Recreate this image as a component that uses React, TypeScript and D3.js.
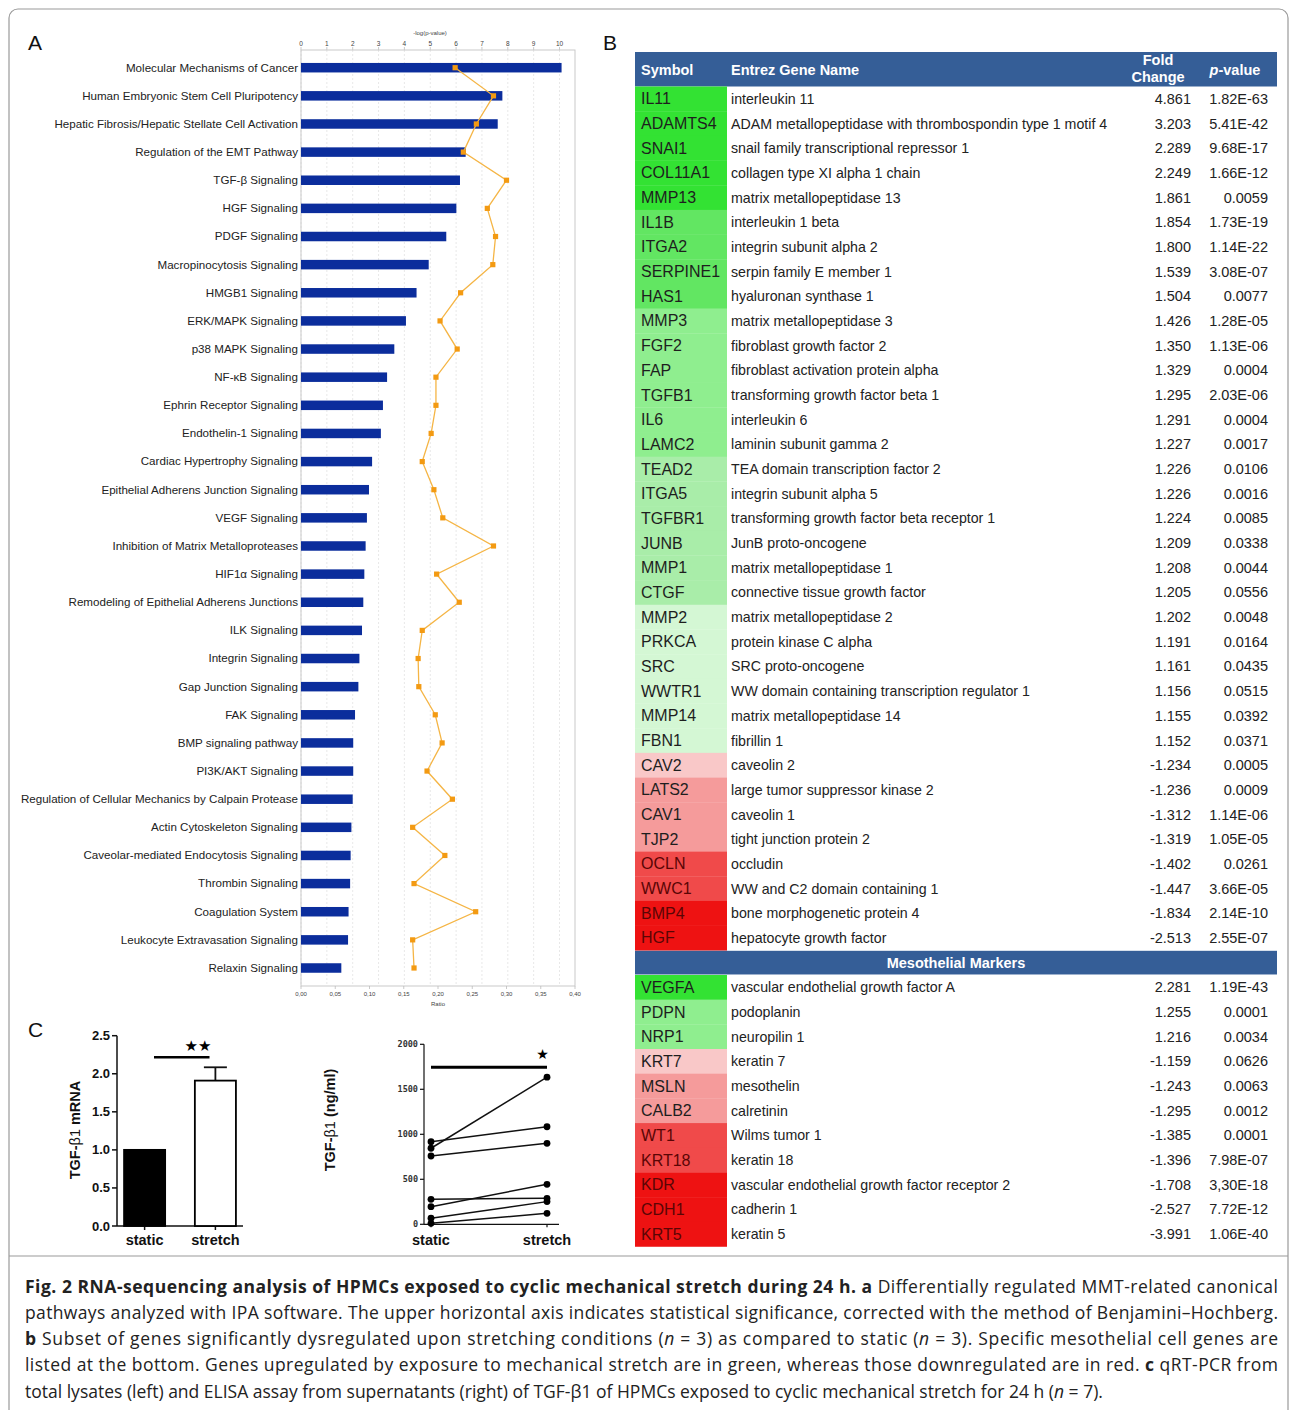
import React from "react";
import * as d3 from "d3";

const pathways = [
  "Molecular Mechanisms of Cancer", "Human Embryonic Stem Cell Pluripotency",
  "Hepatic Fibrosis/Hepatic Stellate Cell Activation", "Regulation of the EMT Pathway",
  "TGF-β Signaling", "HGF Signaling", "PDGF Signaling", "Macropinocytosis Signaling",
  "HMGB1 Signaling", "ERK/MAPK Signaling", "p38 MAPK Signaling", "NF-κB Signaling",
  "Ephrin Receptor Signaling", "Endothelin-1 Signaling", "Cardiac Hypertrophy Signaling",
  "Epithelial Adherens Junction Signaling", "VEGF Signaling", "Inhibition of Matrix Metalloproteases",
  "HIF1α Signaling", "Remodeling of Epithelial Adherens Junctions", "ILK Signaling",
  "Integrin Signaling", "Gap Junction Signaling", "FAK Signaling", "BMP signaling pathway",
  "PI3K/AKT Signaling", "Regulation of Cellular Mechanics by Calpain Protease",
  "Actin Cytoskeleton Signaling", "Caveolar-mediated Endocytosis Signaling", "Thrombin Signaling",
  "Coagulation System", "Leukocyte Extravasation Signaling", "Relaxin Signaling",
];
const negLogP = [10.08, 7.79, 7.61, 6.37, 6.15, 6.01, 5.62, 4.94, 4.47, 4.06, 3.61, 3.33, 3.17, 3.09, 2.75, 2.63, 2.55, 2.5, 2.45, 2.41, 2.36, 2.26, 2.22, 2.09, 2.02, 2.02, 2.0, 1.95, 1.92, 1.9, 1.84, 1.82, 1.56];
const ratios = [0.225, 0.281, 0.256, 0.237, 0.3, 0.272, 0.284, 0.28, 0.233, 0.203, 0.228, 0.197, 0.197, 0.19, 0.177, 0.194, 0.207, 0.281, 0.198, 0.231, 0.177, 0.171, 0.172, 0.196, 0.206, 0.184, 0.221, 0.163, 0.21, 0.165, 0.255, 0.163, 0.165];
const topTicks = [0, 1, 2, 3, 4, 5, 6, 7, 8, 9, 10];
const ratioTicks = [0, 0.05, 0.1, 0.15, 0.2, 0.25, 0.3, 0.35, 0.4];

const symbols = ["IL11", "ADAMTS4", "SNAI1", "COL11A1", "MMP13", "IL1B", "ITGA2", "SERPINE1", "HAS1", "MMP3", "FGF2", "FAP", "TGFB1", "IL6", "LAMC2", "TEAD2", "ITGA5", "TGFBR1", "JUNB", "MMP1", "CTGF", "MMP2", "PRKCA", "SRC", "WWTR1", "MMP14", "FBN1", "CAV2", "LATS2", "CAV1", "TJP2", "OCLN", "WWC1", "BMP4", "HGF"];
const geneNames = ["interleukin 11", "ADAM metallopeptidase with thrombospondin type 1 motif 4", "snail family transcriptional repressor 1", "collagen type XI alpha 1 chain", "matrix metallopeptidase 13", "interleukin 1 beta", "integrin subunit alpha 2", "serpin family E member 1", "hyaluronan synthase 1", "matrix metallopeptidase 3", "fibroblast growth factor 2", "fibroblast activation protein alpha", "transforming growth factor beta 1", "interleukin 6", "laminin subunit gamma 2", "TEA domain transcription factor 2", "integrin subunit alpha 5", "transforming growth factor beta receptor 1", "JunB proto-oncogene", "matrix metallopeptidase 1", "connective tissue growth factor", "matrix metallopeptidase 2", "protein kinase C alpha", "SRC proto-oncogene", "WW domain containing transcription regulator 1", "matrix metallopeptidase 14", "fibrillin 1", "caveolin 2", "large tumor suppressor kinase 2", "caveolin 1", "tight junction protein 2", "occludin", "WW and C2 domain containing 1", "bone morphogenetic protein 4", "hepatocyte growth factor"];
const foldChanges = ["4.861", "3.203", "2.289", "2.249", "1.861", "1.854", "1.800", "1.539", "1.504", "1.426", "1.350", "1.329", "1.295", "1.291", "1.227", "1.226", "1.226", "1.224", "1.209", "1.208", "1.205", "1.202", "1.191", "1.161", "1.156", "1.155", "1.152", "-1.234", "-1.236", "-1.312", "-1.319", "-1.402", "-1.447", "-1.834", "-2.513"];
const pValues = ["1.82E-63", "5.41E-42", "9.68E-17", "1.66E-12", "0.0059", "1.73E-19", "1.14E-22", "3.08E-07", "0.0077", "1.28E-05", "1.13E-06", "0.0004", "2.03E-06", "0.0004", "0.0017", "0.0106", "0.0016", "0.0085", "0.0338", "0.0044", "0.0556", "0.0048", "0.0164", "0.0435", "0.0515", "0.0392", "0.0371", "0.0005", "0.0009", "1.14E-06", "1.05E-05", "0.0261", "3.66E-05", "2.14E-10", "2.55E-07"];
const levels = [4, 4, 4, 4, 4, 3, 3, 3, 3, 2, 2, 2, 2, 2, 2, 1, 1, 1, 1, 1, 1, 0, 0, 0, 0, 0, 0, -1, -2, -2, -2, -3, -3, -4, -4];

const mesoSymbols = ["VEGFA", "PDPN", "NRP1", "KRT7", "MSLN", "CALB2", "WT1", "KRT18", "KDR", "CDH1", "KRT5"];
const mesoNames = ["vascular endothelial growth factor A", "podoplanin", "neuropilin 1", "keratin 7", "mesothelin", "calretinin", "Wilms tumor 1", "keratin 18", "vascular endothelial growth factor receptor 2", "cadherin 1", "keratin 5"];
const mesoFold = ["2.281", "1.255", "1.216", "-1.159", "-1.243", "-1.295", "-1.385", "-1.396", "-1.708", "-2.527", "-3.991"];
const mesoP = ["1.19E-43", "0.0001", "0.0034", "0.0626", "0.0063", "0.0012", "0.0001", "7.98E-07", "3,30E-18", "7.72E-12", "1.06E-40"];
const mesoLevels = [4, 2, 2, -1, -2, -2, -3, -3, -4, -4, -4];

const qpcrGroups = ["static", "stretch"];
const qpcrMeans = [1.0, 1.91];
const qpcrErr = [0, 0.175];
const qpcrTicks = [0, 0.5, 1.0, 1.5, 2.0, 2.5];

const elisaStatic = [845, 918, 759, 278, 196, 67, 11];
const elisaStretch = [1635, 1084, 900, 289, 444, 252, 122];
const elisaTicks = [0, 500, 1000, 1500, 2000];

const levelColor = d3.scaleOrdinal<number, string>()
  .domain([4, 3, 2, 1, 0, -1, -2, -3, -4])
  .range(["#33e233", "#62e662", "#8fee8f", "#a9eda9", "#d4f7d4", "#f9c8c8", "#f59b9b", "#f04a4a", "#ee1212"]);

const FONT = "Liberation Sans, Arial, sans-serif";

function PanelA() {
  const xTop = d3.scaleLinear().domain([0, 10]).range([301, 559.5]);
  const xR = d3.scaleLinear().domain([0, 0.4]).range([301, 575]);
  const y = d3.scalePoint<string>().domain(pathways).range([67.7, 968]);
  const barH = 9.5;
  const pts = pathways.map((p, i) => ({ p, r: ratios[i] }));
  const line = d3.line<{ p: string; r: number }>().x(d => xR(d.r)).y(d => y(d.p)!);
  return (
    <g fontFamily={FONT}>
      <text x={28} y={50} fontSize={21} fill="#111">A</text>
      <text x={430} y={35} fontSize={6} textAnchor="middle" fill="#444">-log(p-value)</text>
      {topTicks.map(t => (
        <g key={"t" + t}>
          <line x1={xTop(t)} x2={xTop(t)} y1={50} y2={986} stroke="#e2e2e2" strokeWidth={0.8} strokeDasharray="2,2" />
          <line x1={xTop(t)} x2={xTop(t)} y1={47} y2={50} stroke="#bbb" strokeWidth={0.8} />
          <text x={xTop(t)} y={46} fontSize={6.5} textAnchor="middle" fill="#444">{t}</text>
        </g>
      ))}
      <rect x={301} y={50} width={274} height={936} fill="none" stroke="#c9c9c9" strokeWidth={1} />
      {ratioTicks.map(t => (
        <g key={"r" + t}>
          <line x1={xR(t)} x2={xR(t)} y1={986} y2={989} stroke="#bbb" strokeWidth={0.8} />
          <text x={xR(t)} y={996} fontSize={6} textAnchor="middle" fill="#444">{t.toFixed(2).replace(".", ",")}</text>
        </g>
      ))}
      <text x={438} y={1006} fontSize={6} textAnchor="middle" fill="#444">Ratio</text>
      {pathways.map((p, i) => (
        <g key={p}>
          <rect x={xTop(0)} y={y(p)! - barH / 2} width={xTop(negLogP[i]) - xTop(0)} height={barH} fill="#0b2d9c" />
          <text x={298} y={y(p)! + 3.9} fontSize={11.6} textAnchor="end" fill="#222">{p}</text>
        </g>
      ))}
      <path d={line(pts) || ""} fill="none" stroke="#f5b545" strokeWidth={1.3} />
      {pts.map(d => (
        <rect key={"m" + d.p} x={xR(d.r) - 2.6} y={y(d.p)! - 2.6} width={5.2} height={5.2} fill="#f39a12" />
      ))}
    </g>
  );
}

function PanelB() {
  const x0 = 635, x1 = 1277, symW = 92;
  const rowH = 24.68, top = 86.5;
  const rows = [
    ...symbols.map((s, i) => ({ s, n: geneNames[i], f: foldChanges[i], p: pValues[i], l: levels[i] })),
    null,
    ...mesoSymbols.map((s, i) => ({ s, n: mesoNames[i], f: mesoFold[i], p: mesoP[i], l: mesoLevels[i] })),
  ];
  const yRow = d3.scaleLinear().domain([0, rows.length]).range([top, top + rows.length * rowH]);
  const hdr = "#355e97";
  return (
    <g fontFamily={FONT}>
      <text x={603} y={50} fontSize={21} fill="#111">B</text>
      <rect x={x0} y={52} width={x1 - x0} height={34.5} fill={hdr} />
      <g fill="#fff" fontWeight="bold" fontSize={14.5}>
        <text x={641} y={75}>Symbol</text>
        <text x={731} y={75}>Entrez Gene Name</text>
        <text x={1158} y={65} textAnchor="middle">Fold</text>
        <text x={1158} y={82} textAnchor="middle">Change</text>
        <text x={1235} y={75} textAnchor="middle"><tspan fontStyle="italic">p</tspan>-value</text>
      </g>
      {rows.map((r, i) => {
        const yt = yRow(i), yc = yt + rowH / 2;
        if (!r) {
          return (
            <g key="meso">
              <rect x={x0} y={yt + 0.5} width={x1 - x0} height={rowH - 1} fill={hdr} />
              <text x={(x0 + x1) / 2} y={yc + 5} textAnchor="middle" fill="#fff" fontWeight="bold" fontSize={14.5}>Mesothelial Markers</text>
            </g>
          );
        }
        const dark = r.l <= -3;
        return (
          <g key={r.s}>
            <rect x={x0} y={yt} width={symW} height={rowH + 0.3} fill={levelColor(r.l)} />
            <text x={641} y={yc + 5.5} fontSize={16} fill={dark ? "#5a0505" : "#1e1e1e"}>{r.s}</text>
            <text x={731} y={yc + 5} fontSize={14.2} fill="#222">{r.n}</text>
            <text x={1191} y={yc + 5} fontSize={14.5} textAnchor="end" fill="#222">{r.f}</text>
            <text x={1268} y={yc + 5} fontSize={14.5} textAnchor="end" fill="#222">{r.p}</text>
          </g>
        );
      })}
    </g>
  );
}

function PanelC() {
  const yq = d3.scaleLinear().domain([0, 2.5]).range([1226, 1035.7]);
  const xq = d3.scaleBand<string>().domain(qpcrGroups).range([117, 243]).paddingInner(0.42).paddingOuter(0.1);
  const bw = xq.bandwidth();
  const ye = d3.scaleLinear().domain([0, 2000]).range([1224.3, 1044.3]);
  const xe = d3.scalePoint<string>().domain(qpcrGroups).range([431, 547]);
  return (
    <g fontFamily={FONT}>
      <text x={28} y={1037} fontSize={21} fill="#111">C</text>
      <line x1={117} x2={117} y1={yq(2.5)} y2={yq(0)} stroke="#111" strokeWidth={1.5} />
      <line x1={117} x2={243} y1={yq(0)} y2={yq(0)} stroke="#111" strokeWidth={1.5} />
      {qpcrTicks.map(t => (
        <g key={"q" + t}>
          <line x1={112} x2={117} y1={yq(t)} y2={yq(t)} stroke="#111" strokeWidth={1.5} />
          <text x={110} y={yq(t) + 4.5} fontSize={13} fontWeight="bold" textAnchor="end" fill="#111">{t.toFixed(1)}</text>
        </g>
      ))}
      {qpcrGroups.map((g, i) => {
        const cx = xq(g)! + bw / 2;
        return (
          <g key={g}>
            <line x1={cx} x2={cx} y1={yq(0)} y2={yq(0) + 4} stroke="#111" strokeWidth={1.5} />
            {qpcrErr[i] > 0 && (
              <g stroke="#111" strokeWidth={1.8}>
                <line x1={cx} x2={cx} y1={yq(qpcrMeans[i])} y2={yq(qpcrMeans[i] + qpcrErr[i])} />
                <line x1={cx - 11.5} x2={cx + 11.5} y1={yq(qpcrMeans[i] + qpcrErr[i])} y2={yq(qpcrMeans[i] + qpcrErr[i])} />
              </g>
            )}
            <rect x={xq(g)!} y={yq(qpcrMeans[i])} width={bw} height={yq(0) - yq(qpcrMeans[i])}
              fill={i === 0 ? "#000" : "#fff"} stroke="#000" strokeWidth={1.8} />
            <text x={cx} y={1245} fontSize={14.5} fontWeight="bold" textAnchor="middle" fill="#111">{g}</text>
          </g>
        );
      })}
      <line x1={154} x2={209.5} y1={1057.3} y2={1057.3} stroke="#000" strokeWidth={2.5} />
      <text x={198} y={1051} fontSize={15} textAnchor="middle" fill="#000" fontFamily="DejaVu Sans">★★</text>
      <text transform={`translate(80,1130) rotate(-90)`} fontSize={14.5} fontWeight="bold" textAnchor="middle" fill="#111">
        TGF-<tspan fontWeight="normal">β1</tspan> mRNA
      </text>
      <line x1={424} x2={424} y1={ye(2000)} y2={ye(0)} stroke="#111" strokeWidth={1.2} />
      <line x1={424} x2={559} y1={ye(0)} y2={ye(0)} stroke="#111" strokeWidth={1.2} />
      {elisaTicks.map(t => (
        <g key={"e" + t}>
          <line x1={420} x2={424} y1={ye(t)} y2={ye(t)} stroke="#111" strokeWidth={1.2} />
          <text x={418} y={ye(t) + 3} fontSize={8.5} fontWeight="bold" textAnchor="end" fill="#333" fontFamily="DejaVu Sans Mono, monospace">{t}</text>
        </g>
      ))}
      {qpcrGroups.map(g => (
        <g key={"x" + g}>
          <line x1={xe(g)!} x2={xe(g)!} y1={ye(0)} y2={ye(0) + 3} stroke="#111" strokeWidth={1.2} />
          <text x={xe(g)!} y={1245} fontSize={14.5} fontWeight="bold" textAnchor="middle" fill="#111">{g}</text>
        </g>
      ))}
      {elisaStatic.map((v, i) => (
        <g key={"p" + i}>
          <line x1={xe("static")!} x2={xe("stretch")!} y1={ye(v)} y2={ye(elisaStretch[i])} stroke="#111" strokeWidth={1.5} />
          <circle cx={xe("static")!} cy={ye(v)} r={3.4} fill="#000" />
          <circle cx={xe("stretch")!} cy={ye(elisaStretch[i])} r={3.4} fill="#000" />
        </g>
      ))}
      <line x1={xe("static")!} x2={xe("stretch")!} y1={1067.3} y2={1067.3} stroke="#000" strokeWidth={3} />
      <text x={542.5} y={1059} fontSize={14} textAnchor="middle" fill="#000" fontFamily="DejaVu Sans">★</text>
      <text transform={`translate(335,1120) rotate(-90)`} fontSize={14.5} fontWeight="bold" textAnchor="middle" fill="#111">
        TGF-<tspan fontWeight="normal">β1</tspan> (ng/ml)
      </text>
    </g>
  );
}

function Caption() {
  const fs = 17.5;
  const L = 25;
  return (
    <g fontFamily="Open Sans, Noto Sans, sans-serif" fontSize={fs} fill="#222">
      <text x={L} y={1293} textLength={1253} lengthAdjust="spacing">
        <tspan fontWeight="bold">Fig. 2 RNA-sequencing analysis of HPMCs exposed to cyclic mechanical stretch during 24 h. a</tspan> Differentially regulated MMT-related canonical
      </text>
      <text x={L} y={1319} textLength={1253} lengthAdjust="spacing">
        pathways analyzed with IPA software. The upper horizontal axis indicates statistical significance, corrected with the method of Benjamini–Hochberg.
      </text>
      <text x={L} y={1345} textLength={1253} lengthAdjust="spacing">
        <tspan fontWeight="bold">b</tspan> Subset of genes significantly dysregulated upon stretching conditions (<tspan fontStyle="italic">n</tspan> = 3) as compared to static (<tspan fontStyle="italic">n</tspan> = 3). Specific mesothelial cell genes are
      </text>
      <text x={L} y={1371} textLength={1253} lengthAdjust="spacing">
        listed at the bottom. Genes upregulated by exposure to mechanical stretch are in green, whereas those downregulated are in red. <tspan fontWeight="bold">c</tspan> qRT-PCR from
      </text>
      <text x={L} y={1398}>
        total lysates (left) and ELISA assay from supernatants (right) of TGF-β1 of HPMCs exposed to cyclic mechanical stretch for 24 h (<tspan fontStyle="italic">n</tspan> = 7).
      </text>
    </g>
  );
}

export default function App() {
  return (
    <div style={{ position: "absolute", left: 0, top: 0 }}>
      <svg width={1290} height={1410} viewBox="0 0 1290 1410" style={{ display: "block", background: "#fff" }}>
        <rect x={9} y={9} width={1279} height={1430} rx={9} fill="#fff" stroke="#9a9a9a" strokeWidth={1.2} />
        <line x1={9} x2={1288} y1={1256} y2={1256} stroke="#9a9a9a" strokeWidth={1.2} />
        <PanelA />
        <PanelB />
        <PanelC />
        <Caption />
      </svg>
    </div>
  );
}
